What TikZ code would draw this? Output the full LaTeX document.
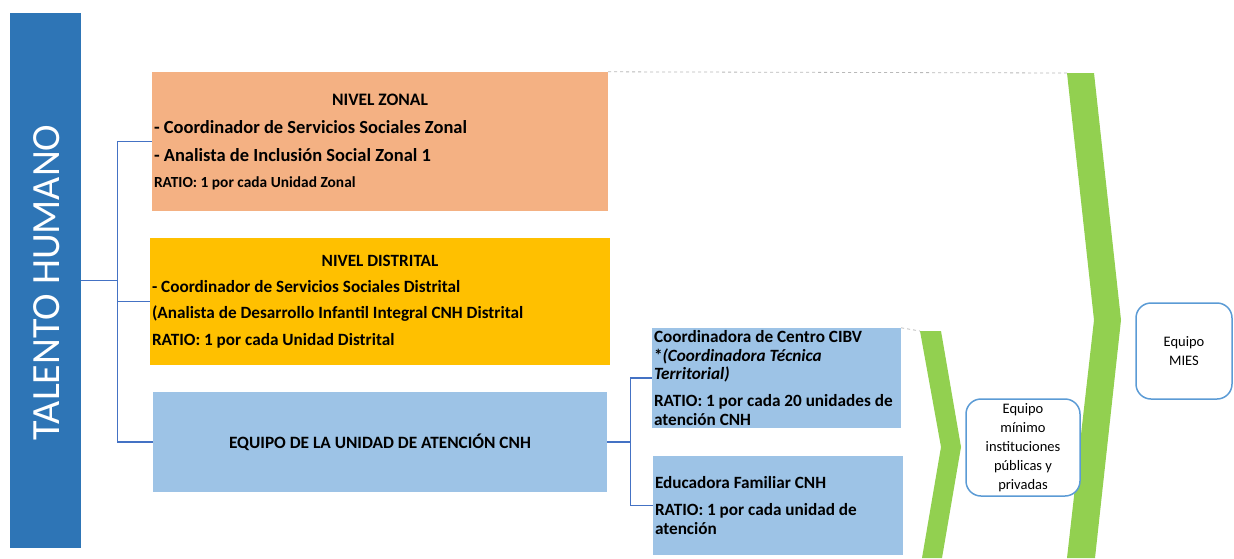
\documentclass[tikz,border=0pt]{standalone}
\usepackage{fontspec}
\setmainfont{Carlito}
\definecolor{BarBlue}{HTML}{2E75B6}
\definecolor{ZonalOrange}{HTML}{F4B183}
\definecolor{DistritalGold}{HTML}{FFC000}
\definecolor{UnitBlue}{HTML}{9DC3E6}
\definecolor{LinkBlue}{HTML}{4472C4}
\definecolor{FrameBlue}{HTML}{5B9BD5}
\definecolor{ChevronGreen}{HTML}{92D050}
\newcommand\natspaces{\setlength{\spaceskip}{0pt}\setlength{\xspaceskip}{0pt}}

\begin{document}
\begin{tikzpicture}[x=1pt,y=-1pt,
  levelbox/.style={inner xsep=2pt,inner ysep=0pt,align=left,anchor=center,
    execute at begin node={\natspaces}},
  team/.style={draw=FrameBlue,line width=1.5pt,rounded corners=15pt,fill=white,inner sep=0pt,align=center,
    font=\fontsize{14.5}{19}\selectfont,execute at begin node={\natspaces}},
  link/.style={LinkBlue,line width=1.2pt},
  guide/.style={gray!55,dashed,line width=.8pt}]
  \useasboundingbox (0,0) rectangle (1234,558);
  % left bar
  \node[fill=BarBlue,minimum width=71pt,minimum height=535pt,inner sep=0pt] (talento) at (45.5,280.5) {};
  \node[rotate=90,text=white,font=\fontsize{40}{40}\selectfont] (talentotxt) at (46.5,282.5) {TALENTO HUMANO};
  % levels
  \node[levelbox,fill=ZonalOrange,minimum width=456pt,minimum height=139pt,text width=452pt,
        font=\bfseries\fontsize{18.5}{28}\selectfont] (zonal) at (380,141.5)
    {\makebox[\linewidth]{\fontsize{17.5}{28}\selectfont NIVEL ZONAL}\\
     - Coordinador de Servicios Sociales Zonal\\
     - Analista de Inclusión Social Zonal 1\\[-2pt]
     {\fontsize{15.4}{28}\selectfont RATIO: 1 por cada Unidad Zonal}};
  \node[levelbox,fill=DistritalGold,minimum width=460pt,minimum height=127pt,text width=456pt,
        font=\bfseries\fontsize{17.2}{26.2}\selectfont] (distrital) at (380,301.5)
    {\makebox[\linewidth]{NIVEL DISTRITAL}\\
     - Coordinador de Servicios Sociales Distrital\\
     (Analista de Desarrollo Infantil Integral CNH Distrital\\
     RATIO: 1 por cada Unidad Distrital};
  \node[levelbox,fill=UnitBlue,minimum width=454pt,minimum height=100pt,align=center,
        font=\bfseries\fontsize{17.3}{20}\selectfont] (cnh) at (380,442) {EQUIPO DE LA UNIDAD DE ATENCIÓN CNH};
  % CNH unit team
  \node[levelbox,fill=UnitBlue,minimum width=247pt,minimum height=100pt,text width=245pt,
        font=\bfseries\fontsize{17.2}{18.5}\selectfont] (cibv) at (776.5,378)
    {Coordinadora de Centro CIBV\\
     {}*\textit{(Coordinadora Técnica\\ Territorial)}\\[8.5pt]
     RATIO: 1 por cada 20 unidades de\\
     atención CNH};
  \node[levelbox,fill=UnitBlue,minimum width=250pt,minimum height=99pt,text width=246pt,
        font=\bfseries\fontsize{17.2}{18.5}\selectfont] (educadora) at (778,505.5)
    {Educadora Familiar CNH\\[8.5pt]
     RATIO: 1 por cada unidad de\\
     atención};
  % chevrons
  \fill[ChevronGreen] (1067,73) coordinate (bigtop) -- (1094,73) -- (1121,320) -- (1095,558) -- (1067,558) -- (1094,320) -- cycle;
  \fill[ChevronGreen] (920,331) coordinate (smalltop) -- (941,331) -- (961,447) -- (942,558) -- (922,558) -- (941,447) -- cycle;
  \draw[guide] (zonal.north east) -- (bigtop);
  \draw[guide] (cibv.north east) -- (smalltop);
  % teams
  \node[team,minimum width=114pt,minimum height=97pt] (minimo) at (1023,447.5) {Equipo\\mínimo\\instituciones\\públicas y\\privadas};
  \node[team,minimum width=96pt,minimum height=96pt] (mies) at (1184,351) {Equipo\\MIES};
  % connectors
  \foreach \lvl in {zonal,distrital,cnh}
    \draw[link] (talento.east) -- ++(36,0) |- (\lvl.west);
  \foreach \sub in {cibv,educadora}
    \draw[link] (cnh.east) -- ++(23,0) |- (\sub.west);
\end{tikzpicture}
\end{document}
